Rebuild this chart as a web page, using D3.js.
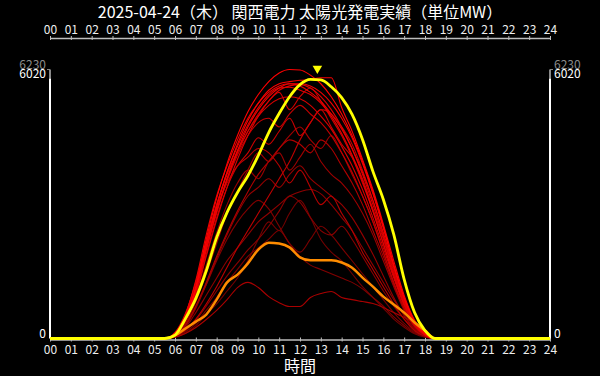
<!DOCTYPE html>
<html lang="ja">
<meta charset="utf-8">

<script src="https://d3js.org/d3.v7.min.js"></script>

<style>
  body { margin: 0; background: #000; }
  svg { display: block; font-family: "Noto Sans CJK JP", sans-serif; }
</style>

<div id="chart"></div>

<script>
// time grid (hours) shared by every day
const hours = [0, 5.5, 6, 6.5, 7, 7.5, 8, 8.5, 9, 9.5, 10, 10.5, 11, 11.5, 12,
  12.5, 13, 13.5, 14, 14.5, 15, 15.5, 16, 16.5, 17, 17.5, 18, 18.5, 24];

// past days of April (MW), oldest first
const d0401 = [0, 0, 30,120,300,550,800,1100,1400,1800,2300,2700,2500,2900,3200,2800,2300,2000,1800,1500,1200,950,700,450,260,110,30, 0, 0];
const d0402 = [0, 0, 40,150,350,650,950,1300,1600,1900,2100,2300,2500,2200,2000,2300,2600,2400,2100,1800,1500,1200,900,600,350,150,40, 0, 0];
const d0403 = [0, 0, 80,320,750,1250,1800,2300,2700,3000,3200,3000,2600,2200,1900,1700,1600,1500,1400,1300,1150,950,750,500,300,130,40, 0, 0];
const d0404 = [0, 0, 40,180,420,750,1100,1450,1750,2050,2300,2600,2950,3300,3150,2800,2500,2400,2600,2300,1900,1500,1100,750,450,200,50, 0, 0];
const d0405 = [0, 0, 60,250,600,1000,1400,1800,2100,2400,2700,2900,3100,3300,3400,3450,3350,3100,2800,2500,2100,1700,1300,900,550,230,60, 0, 0];
const d0406 = [0, 0, 60,280,700,1250,1850,2400,2900,3300,3500,3700,3500,3800,4000,3700,3500,3300,3100,2800,2400,1950,1450,950,520,210,55, 0, 0];
const d0407 = [0, 0, 90,400,950,1700,2450,3100,3600,3900,3700,4100,4300,3900,4200,4500,4100,3800,3600,3300,2900,2400,1800,1200,650,260,70, 0, 0];
const d0408 = [0, 0, 80,350,850,1500,2200,2900,3400,3900,4300,4100,4400,4700,4900,4600,4400,4700,4300,3800,3300,2700,2000,1300,700,280,70, 0, 0];
const d0409 = [0, 0, 30,115,255,440,650,900,1180,1300,1180,970,830,740,740,950,1040,1090,950,900,855,810,720,600,490,370,210, 0, 0];
const d0410 = [0, 0, 70,300,750,1300,1900,2450,2950,3400,3800,4100,4400,4600,4500,4300,4600,4400,4000,3600,3100,2500,1900,1250,700,280,70, 0, 0];
const d0411 = [0, 0, 120,550,1300,2200,3000,3600,4000,4200,4400,4300,4000,3600,3900,3500,3100,3300,2900,2500,2000,1600,1200,800,450,180,50, 0, 0];
const d0412 = [0, 0, 50,200,450,800,1200,1650,2100,2500,2900,3300,3700,4100,4600,5000,5300,5200,4900,4500,3900,3200,2400,1600,850,340,80, 0, 0];
const d0413 = [0, 0, 100,460,1150,2050,2900,3650,4250,4700,5000,5100,4900,5200,5400,5200,5000,4700,4300,3850,3300,2700,2000,1300,700,290,75, 0, 0];
const d0414 = [0, 0, 100,430,1050,1950,2800,3500,4000,4300,4650,4500,4800,5100,4700,5000,5300,4900,4500,4200,3700,3000,2300,1500,800,320,80, 0, 0];
const d0415 = [0, 0, 110,500,1200,2100,2950,3700,4300,4800,5200,5500,5700,5300,5600,5800,5500,5100,4700,4200,3600,2950,2200,1450,780,320,85, 0, 0];
const d0416 = [0, 0, 140,580,1300,2250,3100,3800,4350,4800,5150,5400,5550,5600,5550,5400,5150,4850,4450,4000,3450,2800,2100,1400,760,310,80, 0, 0];
const d0417 = [0, 0, 90,400,1000,1900,2750,3500,4150,4700,5150,5500,5750,5850,5880,5800,5600,5300,4900,4400,3800,3100,2350,1550,850,350,90, 0, 0];
const d0418 = [0, 0, 110,480,1200,2200,3100,3850,4450,4950,5350,5650,5800,5820,5750,5650,5450,5150,4750,4250,3650,2950,2200,1450,800,330,90, 0, 0];
const d0419 = [0, 0, 130,550,1350,2400,3300,4000,4600,5100,5450,5700,5850,5900,5850,5700,5500,5200,4850,4400,3850,3200,2450,1650,900,380,100, 0, 0];
const d0420 = [0, 0, 100,450,1100,2050,2950,3700,4350,4900,5300,5600,5800,5900,5900,5850,5700,5450,5100,4650,4050,3350,2550,1700,930,380,100, 0, 0];
const d0421 = [0, 0, 100,450,1150,2150,3050,3850,4500,5050,5450,5750,5900,5950,5980,6000,6040,6040,5350,4800,4150,3450,2650,1800,1000,420,110, 0, 0];
const d0422 = [0, 0, 120,500,1200,2300,3250,4050,4700,5250,5650,5950,6150,6230,6220,6100,5900,5600,5200,4700,4100,3400,2600,1700,950,400,110, 0, 0];
// yesterday (orange) and today (yellow)
const d0423 = [0, 0, 70,230,390,555,900,1300,1480,1740,2060,2220,2200,2110,1880,1810,1810,1810,1760,1640,1410,1200,970,790,600,370,185, 0, 0];
const d0424 = [0, 0, 80,460,930,1570,2340,2920,3380,3770,4240,4770,5210,5600,5880,6000,5990,5830,5580,5190,4610,3870,3220,2410,1370,600,185, 0, 0];

const pastDays = [d0401, d0402, d0403, d0404, d0405, d0406, d0407, d0408, d0409, d0410, d0411,
  d0412, d0413, d0414, d0415, d0416, d0417, d0418, d0419, d0420, d0421, d0422];

const title = "2025-04-24（木） 関西電力 太陽光発電実績（単位MW）";
const monthMax = 6230;     // max over the month
const todayMax = 6020;     // today's max
const todayMaxHour = 12 + 50 / 60;

var width = 600, height = 376;

var svg = d3.select("#chart")
  .append("svg")
    .attr("width", width)
    .attr("height", height);

svg.append("rect").attr("width", width).attr("height", height).attr("fill", "#000");

var x = d3.scaleLinear().domain([0, 24]).range([50, 550]);
var y = d3.scaleLinear().domain([0, monthMax]).range([338.5, 69.5]);

// title
svg.append("text")
  .attr("x", 300).attr("y", 18)
  .attr("text-anchor", "middle")
  .style("font-size", "16px")
  .style("fill", "#fff")
  .text(title);

// hour axes, top and bottom
function styleHourAxis(g) {
  g.attr("font-family", null).attr("font-size", null);
  g.select(".domain").attr("stroke", "#bdbdbd").attr("stroke-width", 1.5);
  g.selectAll(".tick line").attr("stroke", "#bdbdbd").attr("y1", -2).attr("y2", 2);
  g.selectAll(".tick text").style("fill", "#eee").style("font-size", "12px");
}
svg.append("g")
  .attr("transform", "translate(0,38)")
  .call(d3.axisTop(x).ticks(24).tickFormat(d3.format("02d")).tickSize(2).tickSizeOuter(0).tickPadding(2))
  .call(styleHourAxis);
svg.append("g")
  .attr("transform", "translate(0,339.5)")
  .call(d3.axisBottom(x).ticks(24).tickFormat(d3.format("02d")).tickSize(2).tickSizeOuter(0).tickPadding(4))
  .call(styleHourAxis);

svg.append("text")
  .attr("x", 300).attr("y", 372)
  .attr("text-anchor", "middle")
  .style("font-size", "16px")
  .style("fill", "#fff")
  .text("時間");

// value axes, left and right
[{ax: 50, side: -1}, {ax: 550, side: 1}].forEach(function(a) {
  svg.append("line")
    .attr("x1", a.ax).attr("x2", a.ax)
    .attr("y1", y(monthMax)).attr("y2", y(todayMax))
    .attr("stroke", "#888").attr("stroke-width", 2);
  svg.append("line")
    .attr("x1", a.ax).attr("x2", a.ax + a.side * 3)
    .attr("y1", y(monthMax)).attr("y2", y(monthMax))
    .attr("stroke", "#888").attr("stroke-width", 1);
  svg.append("line")
    .attr("x1", a.ax).attr("x2", a.ax)
    .attr("y1", y(todayMax)).attr("y2", y(0))
    .attr("stroke", "#fff").attr("stroke-width", 2);

  var tx = a.ax + a.side * 4, anchor = a.side < 0 ? "end" : "start";
  svg.append("text")
    .attr("x", tx).attr("y", y(monthMax) - 1)
    .attr("text-anchor", anchor)
    .style("font-size", "12px").style("fill", "#8a8a8a")
    .text(monthMax);
  [todayMax, 0].forEach(function(v) {
    svg.append("text")
      .attr("x", tx).attr("y", y(v) - 1)
      .attr("text-anchor", anchor)
      .style("font-size", "12px").style("fill", "#fff")
      .text(v);
  });
});

// lines
var line = d3.line()
  .x(function(d, i) { return x(hours[i]); })
  .y(function(d) { return y(d); })
  .curve(d3.curveMonotoneX);

var shade = d3.scaleLinear()
  .domain([0, pastDays.length - 1])
  .range(["#740000", "#ff0000"]);

svg.append("g").selectAll("path")
  .data(pastDays)
  .enter()
  .append("path")
    .attr("d", line)
    .attr("fill", "none")
    .attr("stroke", function(d, i) { return shade(i); })
    .attr("stroke-width", 1.1);

svg.append("path")
  .attr("d", line(d0423))
  .attr("fill", "none")
  .attr("stroke", "#ff8c00")
  .attr("stroke-width", 2.5);

svg.append("path")
  .attr("d", line(d0424))
  .attr("fill", "none")
  .attr("stroke", "#ffff00")
  .attr("stroke-width", 2.8);

// marker above today's peak
svg.append("path")
  .attr("d", d3.symbol().type(d3.symbolTriangle).size(40))
  .attr("transform", "translate(" + x(todayMaxHour) + "," + (y(todayMax) - 10) + ") rotate(180)")
  .attr("fill", "#ffff00");
</script>
</html>
